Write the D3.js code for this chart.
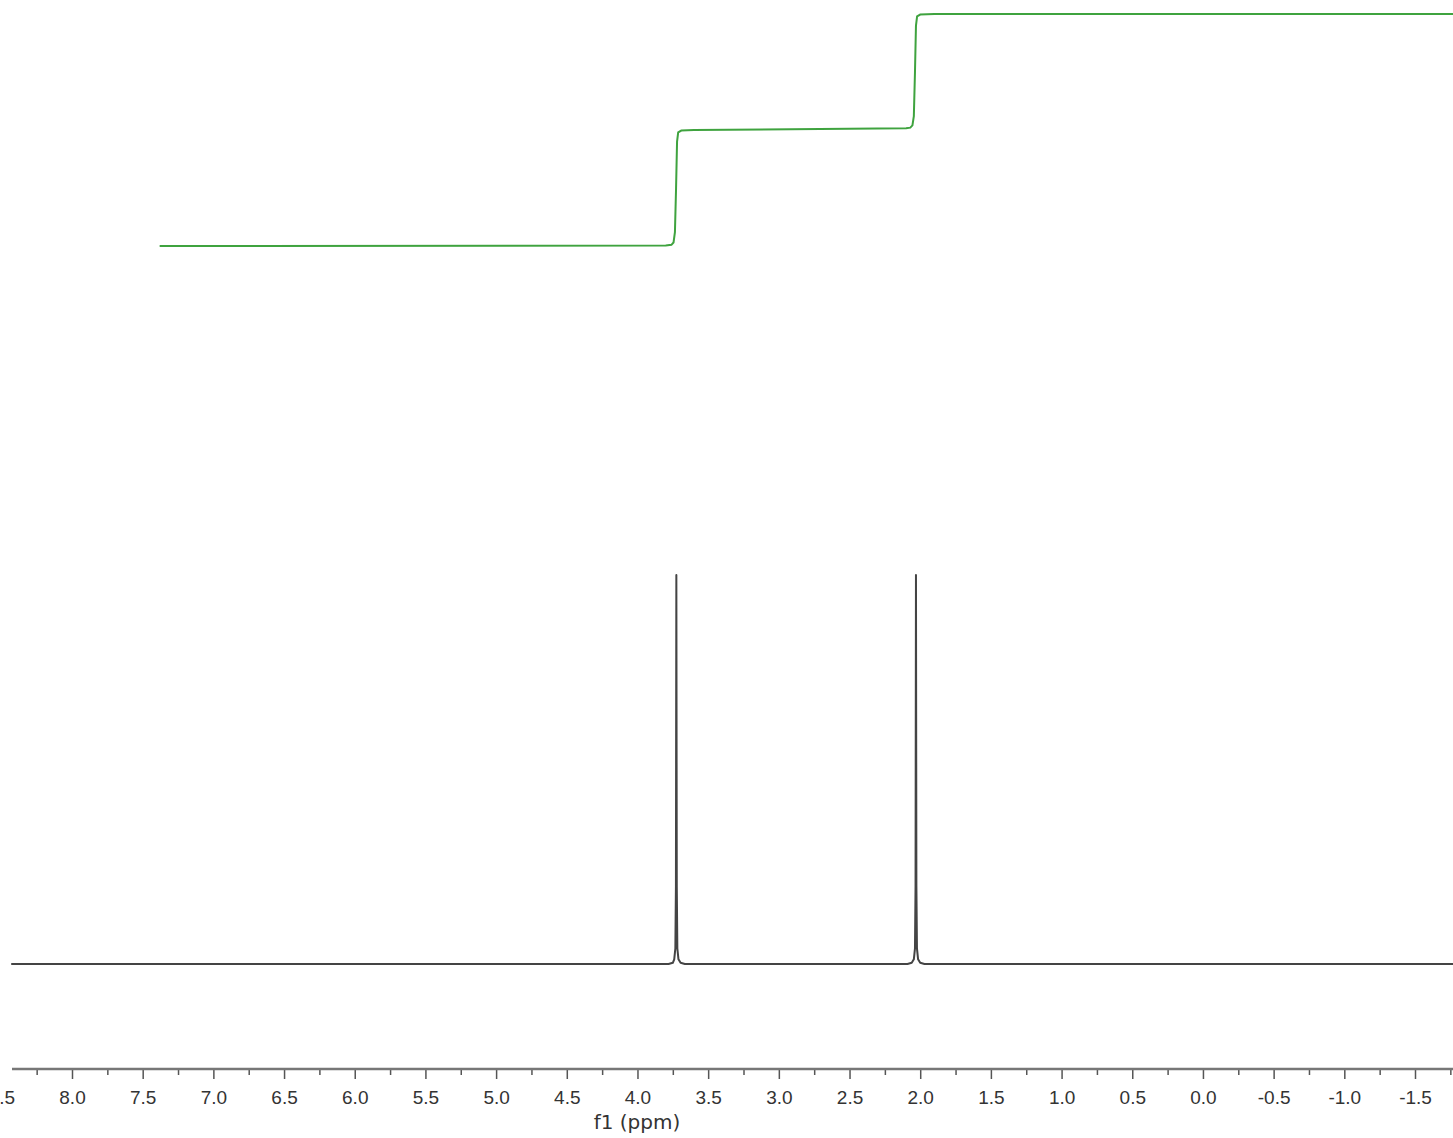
<!DOCTYPE html>
<html lang="en">
  <head>
    <meta charset="UTF-8" />
    <title>1H NMR</title>
    <script src="https://d3js.org/d3.v7.min.js"></script>
    <style>
      body {
        margin: 0;
        background: #fff;
        font-family: "DejaVu Sans", sans-serif;
      }
      .tick text {
        font-size: 19px;
        fill: #333;
      }
    </style>
  </head>
  <body>
    <div id="chart"></div>
    <script>
      const width = 1453;
      const height = 1138;

      // spectrum points [ppm, relative intensity]
      const spectrum = [
        [8.43, 0], [3.78, 0], [3.75, 0.003], [3.74, 0.012], [3.732, 0.04],
        [3.728, 0.2], [3.725, 1], [3.722, 0.2], [3.718, 0.04], [3.71, 0.012],
        [3.695, 0.003], [3.665, 0], [2.09, 0], [2.06, 0.003], [2.045, 0.012],
        [2.037, 0.04], [2.033, 0.2], [2.03, 1], [2.027, 0.2], [2.023, 0.04],
        [2.015, 0.012], [2.0, 0.003], [1.97, 0], [-1.77, 0]
      ];

      // integral curve [ppm, cumulative area]
      const integral = [
        [7.38, 0], [3.80, 0.004], [3.76, 0.01], [3.745, 0.03], [3.735, 0.12],
        [3.727, 0.5], [3.72, 0.9], [3.712, 0.98], [3.69, 0.995], [3.60, 1.0],
        [2.10, 1.015], [2.07, 1.02], [2.055, 1.04], [2.045, 1.12], [2.037, 1.5],
        [2.03, 1.9], [2.022, 1.98], [2.0, 1.995], [1.9, 2.0], [-1.77, 2.0]
      ];

      const majorTicks = [8.5, 8.0, 7.5, 7.0, 6.5, 6.0, 5.5, 5.0, 4.5, 4.0, 3.5,
        3.0, 2.5, 2.0, 1.5, 1.0, 0.5, 0.0, -0.5, -1.0, -1.5];
      const minorTicks = [8.25, 7.75, 7.25, 6.75, 6.25, 5.75, 5.25, 4.75, 4.25,
        3.75, 3.25, 2.75, 2.25, 1.75, 1.25, 0.75, 0.25, -0.25, -0.75, -1.25, -1.75];

      const svg = d3
        .select("#chart")
        .append("svg")
        .attr("width", width)
        .attr("height", height);

      // ppm runs right to left
      const x = d3.scaleLinear().domain([8.0, -1.5]).range([72, 1415]);
      const ySpec = d3.scaleLinear().domain([0, 1]).range([964, 575]);
      const yInt = d3.scaleLinear().domain([0, 2]).range([246, 14]);

      const axisY = 1069;
      const axisLeft = 12;

      // integral
      svg
        .append("path")
        .datum(integral)
        .attr("fill", "none")
        .attr("stroke", "#3fa33f")
        .attr("stroke-width", 2)
        .attr("d", d3.line().x((d) => x(d[0])).y((d) => yInt(d[1])));

      // spectrum
      svg
        .append("path")
        .datum(spectrum)
        .attr("fill", "none")
        .attr("stroke", "#444")
        .attr("stroke-width", 2)
        .attr("stroke-linejoin", "round")
        .attr("d", d3.line().x((d) => x(d[0])).y((d) => ySpec(d[1])));

      // x axis
      const gMinor = svg
        .append("g")
        .attr("transform", `translate(0,${axisY})`)
        .call(d3.axisBottom(x).tickValues(minorTicks).tickSize(6).tickFormat(""));
      const gMajor = svg
        .append("g")
        .attr("transform", `translate(0,${axisY})`)
        .call(
          d3.axisBottom(x)
            .tickValues(majorTicks)
            .tickSize(10)
            .tickPadding(12)
            .tickFormat((d) => d.toFixed(1))
        );

      [gMinor, gMajor].forEach((g) => {
        g.select(".domain").remove();
        g.selectAll(".tick line")
          .attr("stroke", "#555")
          .attr("stroke-width", 1.5)
          .style("display", (d) => (x(d) < axisLeft ? "none" : null));
      });

      svg
        .append("line")
        .attr("x1", axisLeft)
        .attr("x2", width)
        .attr("y1", axisY)
        .attr("y2", axisY)
        .attr("stroke", "#777")
        .attr("stroke-width", 2.5);

      svg
        .append("text")
        .attr("x", 637)
        .attr("y", 1129)
        .attr("text-anchor", "middle")
        .attr("font-size", 20)
        .attr("fill", "#333")
        .text("f1 (ppm)");
    </script>
  </body>
</html>
